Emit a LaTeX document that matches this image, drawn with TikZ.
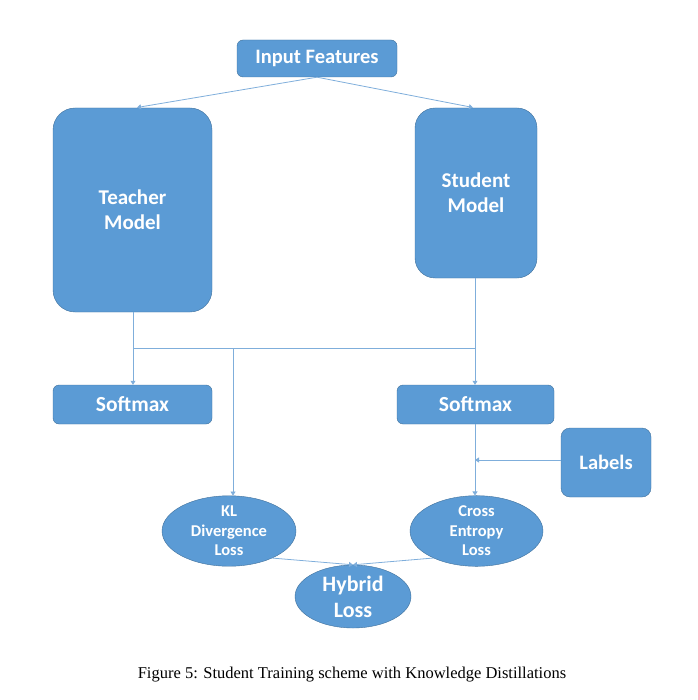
\documentclass[tikz,border=0pt]{standalone}
\usepackage{fontspec}
\setmainfont{Liberation Serif}
\newfontfamily\boxfont{Carlito}
\usetikzlibrary{arrows.meta,shapes.geometric}
\definecolor{boxblue}{HTML}{5B9BD5}
\definecolor{edgeblue}{HTML}{41719C}
\definecolor{lineblue}{HTML}{7FAEDB}
\tikzset{
  block/.style={draw=edgeblue,fill=boxblue,text=white,font=\boxfont\bfseries,
    rounded corners=#1,align=center,inner sep=0pt},
  block/.default=6pt,
  lossnode/.style={ellipse,draw=edgeblue,fill=boxblue,text=white,
    font=\boxfont\bfseries,align=center,inner sep=0pt},
  link/.style={draw=lineblue,line width=0.8pt},
  arr/.style={link,-{Triangle[width=5pt,length=4pt]}}
}
\begin{document}
\begin{tikzpicture}[x=1pt,y=-1pt]
\useasboundingbox (0,0) rectangle (697,700);
% boxes
\node[block,minimum width=160pt,minimum height=37pt,font=\boxfont\bfseries\fontsize{20.5}{22}\selectfont] (input) at (317,58.5) {Input Features};
\node[block=22pt,minimum width=159pt,minimum height=204pt,font=\boxfont\bfseries\fontsize{21}{25}\selectfont] (teacher) at (132.5,210) {Teacher\\Model};
\node[block=20pt,minimum width=122pt,minimum height=170pt,font=\boxfont\bfseries\fontsize{21}{25}\selectfont] (student) at (476,193) {Student\\Model};
\node[block,minimum width=159pt,minimum height=39pt,font=\boxfont\bfseries\fontsize{21.5}{22}\selectfont] (softT) at (132.5,404.5) {Softmax};
\node[block,minimum width=157pt,minimum height=39pt,font=\boxfont\bfseries\fontsize{21.5}{22}\selectfont] (softS) at (475.5,404.5) {Softmax};
\node[block=9pt,minimum width=90pt,minimum height=69pt,font=\boxfont\bfseries\fontsize{20.5}{22}\selectfont] (labels) at (606,462.5) {Labels};
% losses
\node[lossnode,minimum width=134pt,minimum height=68pt,font=\boxfont\bfseries\fontsize{16.5}{19.5}\selectfont] (kl) at (229,531) {KL\\Divergence\\Loss};
\node[lossnode,minimum width=133pt,minimum height=68pt,font=\boxfont\bfseries\fontsize{16.5}{19.5}\selectfont] (ce) at (476.5,531) {Cross\\Entropy\\Loss};
\node[lossnode,minimum width=116pt,minimum height=63pt,font=\boxfont\bfseries\fontsize{22}{26}\selectfont] (hybrid) at (353,596.5) {Hybrid\\Loss};
% junctions
\coordinate (jT) at (133,348);
\coordinate (jK) at (233,348);
\coordinate (jS) at (475,348);
\coordinate (jL) at (475,460);
% connectors
\draw[arr] (input.south) -- (137,107.5);
\draw[arr] (input.south) -- (473,107.5);
\draw[link] (teacher.south -| jT) -- (jT) -- (jS);
\draw[link] (student.south -| jS) -- (jS);
\draw[arr] (jT) -- (softT.north -| jT);
\draw[arr] (jS) -- (softS.north -| jS);
\draw[arr] (jK) -- (kl.north -| jK);
\draw[arr] (softS.south -| jS) -- (ce.north -| jS);
\draw[arr] (labels.west |- jL) -- (jL);
\draw[arr] (kl.-32) -- (hybrid.north);
\draw[arr] (ce.-148) -- (hybrid.north);
% caption
\node[font=\fontsize{16.5}{19}\selectfont] (caption) at (352,675) {Figure 5: Student Training scheme with Knowledge Distillations};
\end{tikzpicture}
\end{document}
